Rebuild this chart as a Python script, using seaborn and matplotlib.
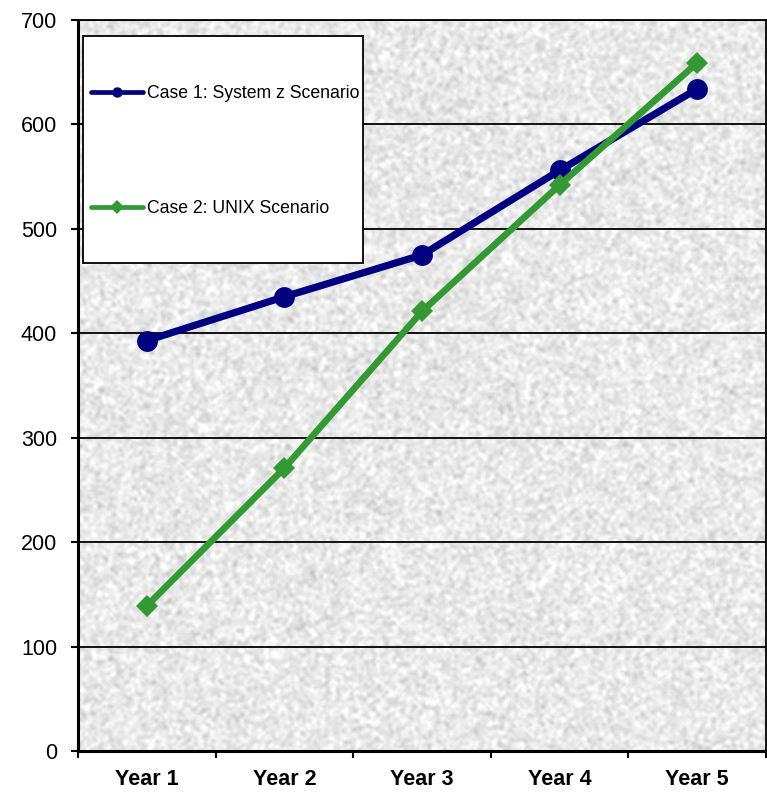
import numpy as np
import pandas as pd
import matplotlib
matplotlib.use("Agg")
import matplotlib.pyplot as plt
from matplotlib.patches import Rectangle
import seaborn as sns

# ---- data ----
years = ["Year 1", "Year 2", "Year 3", "Year 4", "Year 5"]
case1_label = "Case 1: System z Scenario"
case2_label = "Case 2: UNIX Scenario"
case1_values = [393, 435, 475, 556, 634]
case2_values = [139, 271, 421, 542, 659]
y_ticks = [0, 100, 200, 300, 400, 500, 600, 700]

sns.set_theme(style="white")
plt.rcParams["font.family"] = ["Liberation Sans", "DejaVu Sans"]

fig = plt.figure(figsize=(7.67, 7.92), dpi=100)
ax = fig.add_axes([78 / 767, 41 / 792, 688 / 767, 731 / 792])

# granite-style plot background
rng = np.random.default_rng(7)
h, w = 420, 400
n = rng.normal(0, 1, (h, w))
pad = np.pad(n, 1, mode="wrap")
sm = sum(pad[i:i + h, j:j + w] for i in range(3) for j in range(3)) / 9.0
sm2 = 0.7 * sm / sm.std() + 0.3 * n
tex = 0.915 + 0.04 * sm2 / sm2.std()
tex = np.clip(tex, 0.75, 1.0)
ax.imshow(tex, extent=(-0.5, 4.5, 0, 700), aspect="auto", cmap="gray",
          vmin=0, vmax=1, zorder=0, interpolation="bilinear")

df1 = pd.DataFrame({"year": years, "value": case1_values})
df2 = pd.DataFrame({"year": years, "value": case2_values})

sns.lineplot(data=df1, x="year", y="value", ax=ax, color="#000080",
             linewidth=5.2, marker="o", markersize=15, markeredgewidth=0,
             label=case1_label, zorder=3, sort=False)
sns.lineplot(data=df2, x="year", y="value", ax=ax, color="#339933",
             linewidth=4.8, marker="D", markersize=11.5, markeredgewidth=0,
             label=case2_label, zorder=4, sort=False)

ax.set_xlim(-0.5, 4.5)
ax.set_ylim(0, 700)
ax.set_yticks(y_ticks)
ax.set_yticklabels([str(v) for v in y_ticks], fontsize=15.5)
ax.set_xticks(range(len(years)))
ax.set_xticklabels(years, fontsize=15.5, fontweight="bold")
ax.set_xticks(np.arange(-0.5, 5.0, 1.0), minor=True)
ax.set_xlabel("")
ax.set_ylabel("")

ax.tick_params(axis="x", which="major", length=0, pad=13, colors="black")
ax.tick_params(axis="x", which="minor", length=5, width=1.5, direction="out",
               color="black", bottom=True)
ax.tick_params(axis="y", length=5, width=1.5, direction="out", pad=10,
               colors="black", left=True)

ax.yaxis.grid(True, color="black", linewidth=1.3)
ax.xaxis.grid(False)
ax.set_axisbelow(True)

for side in ["left", "bottom"]:
    ax.spines[side].set_color("black")
    ax.spines[side].set_linewidth(2.2)
for side in ["top", "right"]:
    ax.spines[side].set_color("black")
    ax.spines[side].set_linewidth(1.3)

# legend: tall white box with the two entries spread out inside it
box = Rectangle((0.0073, 0.6676), 0.407, 0.3105, transform=ax.transAxes,
                facecolor="white", edgecolor="black", linewidth=1.3,
                zorder=9, clip_on=False)
ax.add_patch(box)
leg = ax.legend(loc="upper left", bbox_to_anchor=(0.0195, 0.911),
                fontsize=12.7, frameon=False, borderpad=0, labelspacing=5.55,
                handlelength=2.9, handletextpad=0.25, borderaxespad=0)
for hdl in leg.legend_handles:
    hdl.set_linewidth(3.4)
    hdl.set_markersize(7.5)
for txt in leg.get_texts():
    txt.set_color("black")
leg.set_zorder(10)

fig.savefig("out.png", dpi=100)
